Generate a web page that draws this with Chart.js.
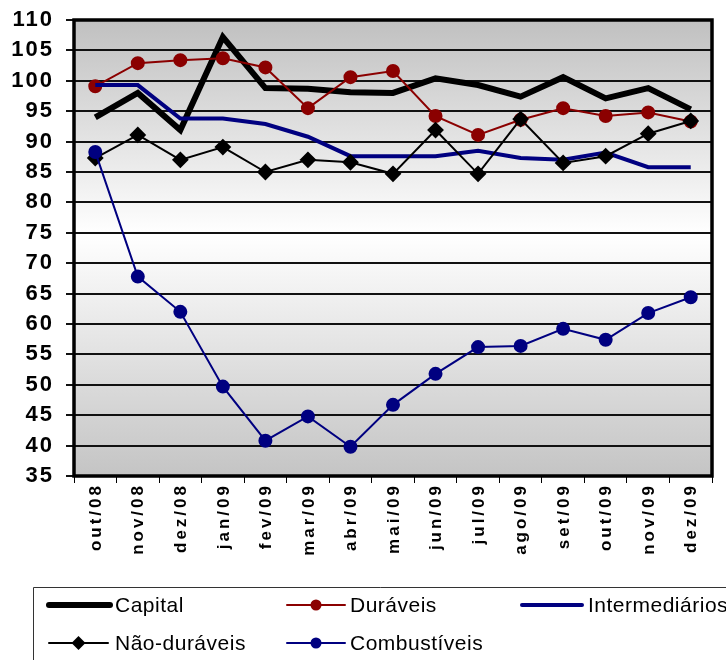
<!DOCTYPE html>
<html><head><meta charset="utf-8">
<script src="https://cdn.jsdelivr.net/npm/chart.js@4.4.0/dist/chart.umd.min.js"></script>
<style>html,body{margin:0;padding:0;background:#fff;}</style>
</head><body>
<canvas id="c" width="726" height="660"></canvas>
<script>
const categories = ['out/08','nov/08','dez/08','jan/09','fev/09','mar/09','abr/09','mai/09','jun/09','jul/09','ago/09','set/09','out/09','nov/09','dez/09'];
const capital = [94.0, 98.0, 91.9, 107.2, 98.8, 98.7, 98.1, 98.0, 100.4, 99.3, 97.4, 100.6, 97.1, 98.8, 95.3];
const duraveis = [99.1, 102.9, 103.4, 103.7, 102.2, 95.5, 100.6, 101.6, 94.2, 91.1, 93.6, 95.5, 94.2, 94.8, 93.3];
const intermediarios = [99.3, 99.3, 93.8, 93.8, 92.9, 90.8, 87.6, 87.6, 87.6, 88.5, 87.3, 87.0, 88.2, 85.8, 85.8];
const naoDuraveis = [87.3, 91.1, 87.0, 89.1, 85.0, 87.0, 86.6, 84.7, 91.9, 84.7, 93.7, 86.5, 87.6, 91.3, 93.4];
const combustiveis = [88.3, 67.8, 62.0, 49.7, 40.8, 44.8, 39.8, 46.7, 51.8, 56.2, 56.4, 59.2, 57.4, 61.8, 64.4];
const seriesNames = ['Capital','Duráveis','Intermediários','Não-duráveis','Combustíveis'];
const yMin = 35, yMax = 110, yStep = 5;

const RED = '#8B0000', NAVY = '#000080';

const bgPlugin = {
  id: 'bg',
  beforeDraw(chart) {
    const {ctx, chartArea: a} = chart;
    ctx.save();
    const g = ctx.createLinearGradient(0, a.top, 0, a.bottom);
    g.addColorStop(0, '#c0c0c0');
    g.addColorStop(0.47, '#ffffff');
    g.addColorStop(1, '#c4c4c4');
    ctx.fillStyle = g;
    ctx.fillRect(a.left, a.top, a.right - a.left, a.bottom - a.top);
    ctx.restore();
    ctx.letterSpacing = '2px';
  },
  afterDatasetsDraw(chart) {
    const {ctx, chartArea: a} = chart;
    ctx.save();
    ctx.strokeStyle = '#000';
    ctx.lineWidth = 3.5;
    ctx.strokeRect(a.left, a.top, a.right - a.left, a.bottom - a.top);
    ctx.restore();
  },
  afterDraw(chart) {
    const {ctx} = chart;
    const xs = chart.scales.x;
    ctx.save();
    // x labels
    ctx.letterSpacing = '3px';
    ctx.font = 'bold 17px "Liberation Sans", Arial, sans-serif';
    ctx.fillStyle = '#000';
    ctx.textAlign = 'right';
    ctx.textBaseline = 'middle';
    categories.forEach((lab, i) => {
      const x = xs.getPixelForValue(i);
      ctx.save();
      ctx.translate(x + 1, 486);
      ctx.rotate(-Math.PI / 2);
      ctx.fillText(lab, 3, 0);
      ctx.restore();
    });
    // legend
    ctx.letterSpacing = '0.5px';
    ctx.strokeStyle = '#333';
    ctx.lineWidth = 1;
    ctx.beginPath();
    ctx.moveTo(33.5, 665);
    ctx.lineTo(33.5, 587.5);
    ctx.lineTo(730, 587.5);
    ctx.stroke();
    const ds = chart.data.datasets;
    const slots = [
      {x0: 49, x1: 110, y: 605, tx: 115},
      {x0: 287, x1: 345, y: 605, tx: 350},
      {x0: 522, x1: 582, y: 605, tx: 588},
      {x0: 49, x1: 108, y: 643, tx: 115},
      {x0: 287, x1: 345, y: 643, tx: 350}
    ];
    ctx.font = '21px "Liberation Sans", Arial, sans-serif';
    ctx.textAlign = 'left';
    ds.forEach((d, i) => {
      const s = slots[i];
      ctx.strokeStyle = d.borderColor;
      ctx.lineWidth = d.borderWidth;
      ctx.lineCap = 'round';
      ctx.beginPath();
      ctx.moveTo(s.x0, s.y);
      ctx.lineTo(s.x1, s.y);
      ctx.stroke();
      if (d.pointRadius > 0) {
        const cx = (s.x0 + s.x1) / 2;
        ctx.fillStyle = d.pointBackgroundColor;
        ctx.beginPath();
        if (d.pointStyle === 'rectRot') {
          const r = 7;
          ctx.moveTo(cx, s.y - r); ctx.lineTo(cx + r, s.y); ctx.lineTo(cx, s.y + r); ctx.lineTo(cx - r, s.y);
          ctx.closePath();
        } else {
          ctx.arc(cx, s.y, 5.5, 0, Math.PI * 2);
        }
        ctx.fill();
      }
      ctx.fillStyle = '#000';
      ctx.fillText(d.label, s.tx, s.y + 1);
    });
    ctx.restore();
  }
};

function zeroPad(s) { s.paddingTop = 0; s.paddingBottom = 0; s.paddingLeft = 0; s.paddingRight = 0; }

new Chart(document.getElementById('c'), {
  type: 'line',
  data: {
    labels: categories,
    datasets: [
      {label: seriesNames[0], data: capital, borderColor: '#000', backgroundColor: '#000', borderWidth: 6, pointRadius: 0, order: 5},
      {label: seriesNames[1], data: duraveis, borderColor: RED, backgroundColor: RED, pointBackgroundColor: RED, pointBorderColor: RED, borderWidth: 2, pointRadius: 6, pointStyle: 'circle', order: 4},
      {label: seriesNames[2], data: intermediarios, borderColor: NAVY, backgroundColor: NAVY, borderWidth: 4, pointRadius: 0, order: 3},
      {label: seriesNames[3], data: naoDuraveis, borderColor: '#000', backgroundColor: '#000', pointBackgroundColor: '#000', pointBorderColor: '#000', borderWidth: 2, pointRadius: 7, pointStyle: 'rectRot', order: 2},
      {label: seriesNames[4], data: combustiveis, borderColor: NAVY, backgroundColor: NAVY, pointBackgroundColor: NAVY, pointBorderColor: NAVY, borderWidth: 2, pointRadius: 6, pointStyle: 'circle', order: 1}
    ]
  },
  options: {
    responsive: false,
    animation: false,
    devicePixelRatio: 1,
    layout: {padding: {left: 0, top: 20, right: 14, bottom: 84}},
    plugins: {legend: {display: false}, tooltip: {enabled: false}},
    elements: {line: {tension: 0, borderJoinStyle: 'miter'}, point: {borderWidth: 0, hoverRadius: 6}},
    scales: {
      x: {
        offset: true,
        grid: {offset: true, drawOnChartArea: false, drawTicks: true, tickLength: 7, color: '#000', lineWidth: 1},
        border: {display: false},
        ticks: {color: 'rgba(0,0,0,0)', autoSkip: false, maxRotation: 90, minRotation: 90, font: {size: 16, weight: 'bold'}},
        afterFit(s) { s.height = 100; zeroPad(s); }
      },
      y: {
        min: yMin, max: yMax,
        grid: {color: '#111', lineWidth: 2, drawTicks: true, tickLength: 8},
        border: {display: false},
        ticks: {stepSize: yStep, padding: 12, color: '#000', font: {family: '"Liberation Sans", Arial, sans-serif', size: 22, weight: 'bold'}},
        afterFit(s) { s.width = 74; zeroPad(s); }
      }
    }
  },
  plugins: [bgPlugin]
});
</script>
</body></html>
